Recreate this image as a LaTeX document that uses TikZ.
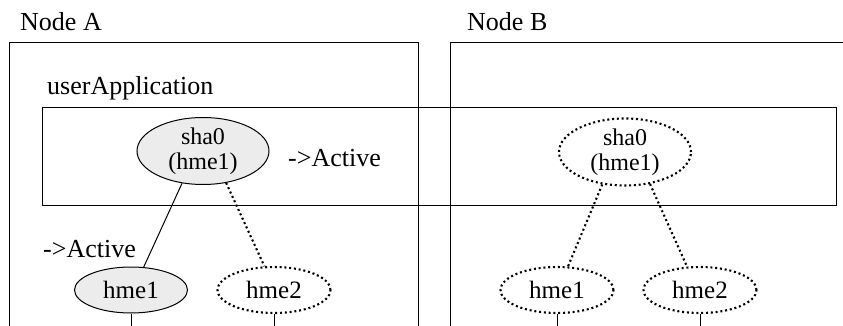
\documentclass[tikz,border=0pt]{standalone}
\usepackage{fontspec}
\setmainfont{Liberation Serif}
\usepackage{tikz}
\usetikzlibrary{shapes.geometric, positioning}
\tikzstyle{frame} = [rectangle, draw=black, line width=1.4pt, inner sep=0pt, anchor=north west]
\tikzstyle{label} = [inner sep=0pt, anchor=base west]
\tikzstyle{nic} = [ellipse, draw=black, line width=1pt, fill=gray!15, inner sep=0pt, minimum width=113pt, minimum height=46pt, align=center, font=\fontsize{25}{25}\selectfont]
\tikzstyle{sha} = [nic, minimum width=132pt, minimum height=67pt, font=\fontsize{24}{25}\selectfont]
\tikzstyle{standby} = [line width=2.1pt, dash pattern=on 2pt off 2.8pt, fill=none]
\tikzstyle{line} = [draw, line width=1pt]

\begin{document}
\begin{tikzpicture}[x=1pt, y=-1pt, font=\fontsize{26}{26}\selectfont]
    \useasboundingbox (0,0) rectangle (843,326);
    % Frames
    \node [frame, minimum width=409pt, minimum height=292pt] (nodeA) at (9,42) {};
    \node [frame, minimum width=402pt, minimum height=292pt] (nodeB) at (450,42) {};
    \node [frame, minimum width=794pt, minimum height=98pt] (userapp) at (42,107) {};
    \node [label] (labA) at (20,31) {Node A};
    \node [label] (labB) at (467,31) {Node B};
    \node [label] (labapp) at (47,95) {userApplication};
    \coordinate (bottom) at (0,330);

    % Nodes
    \node [sha] (shaA) at (203,151) {sha0\\(hme1)};
    \node [sha, standby] (shaB) at (625,152) {sha0\\(hme1)};
    \node [nic] (hmeA1) at (131,290) {hme1};
    \node [nic, standby] (hmeA2) at (274,290) {hme2};
    \node [nic, standby] (hmeB1) at (557,290) {hme1};
    \node [nic, standby] (hmeB2) at (700,290) {hme2};
    \node [label] (actsha) at (288,166) {->Active};
    \node [label] (acthme) at (43,257) {->Active};

    % Edges
    \path [line] (shaA.237) -- (hmeA1.61);
    \path [line, standby] (shaA.306) -- (hmeA2.112);
    \path [line, standby] (shaB.235) -- (hmeB1.65);
    \path [line, standby] (shaB.308) -- (hmeB2.119);
    \path [line] (hmeA1.south) -- (hmeA1.south |- bottom);
    \path [line] (hmeA2.south) -- (hmeA2.south |- bottom);
    \path [line] (hmeB1.south) -- (hmeB1.south |- bottom);
    \path [line] (hmeB2.south) -- (hmeB2.south |- bottom);
\end{tikzpicture}
\end{document}
